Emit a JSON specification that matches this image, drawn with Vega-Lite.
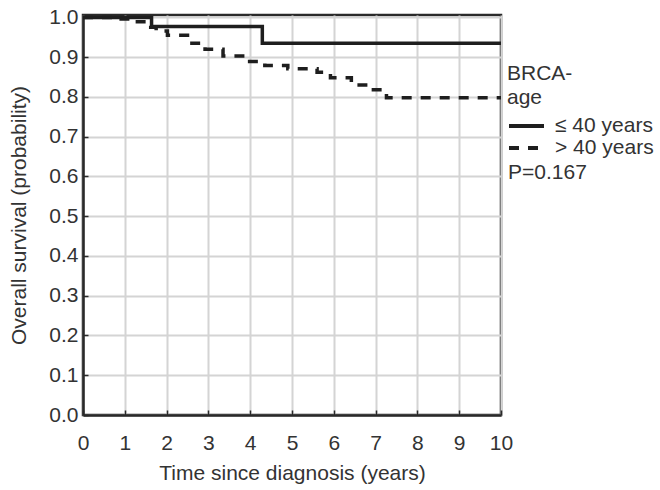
{
  "$schema": "https://vega.github.io/schema/vega-lite/v6.json",
  "width": 418,
  "height": 400,
  "autosize": "none",
  "padding": {"left": 83, "top": 15, "right": 159, "bottom": 75},
  "background": "white",
  "config": {
    "font": "Liberation Sans",
    "view": {"stroke": "#2a2a2a", "strokeWidth": 2.5},
    "axis": {
      "gridColor": "#d4d4d4",
      "gridWidth": 2,
      "gridOpacity": 1,
      "domainColor": "#2a2a2a",
      "domainWidth": 2.5,
      "tickColor": "#2a2a2a",
      "tickWidth": 1.5,
      "tickSize": -5,
      "labelFontSize": 21,
      "labelColor": "#333",
      "labelOverlap": false,
      "titleFontSize": 21,
      "titleFontWeight": "normal",
      "titleColor": "#333"
    }
  },
  "datasets": {
    "surv": [
      {"t": 0, "s": 1.0, "g": "≤ 40 years"},
      {"t": 1.64, "s": 0.977, "g": "≤ 40 years"},
      {"t": 4.29, "s": 0.935, "g": "≤ 40 years"},
      {"t": 10, "s": 0.935, "g": "≤ 40 years"},
      {"t": 0, "s": 1.0, "g": "> 40 years"},
      {"t": 0.8, "s": 0.996, "g": "> 40 years"},
      {"t": 1.2, "s": 0.989, "g": "> 40 years"},
      {"t": 1.62, "s": 0.975, "g": "> 40 years"},
      {"t": 1.75, "s": 0.966, "g": "> 40 years"},
      {"t": 2.02, "s": 0.955, "g": "> 40 years"},
      {"t": 2.5, "s": 0.935, "g": "> 40 years"},
      {"t": 2.92, "s": 0.92, "g": "> 40 years"},
      {"t": 3.35, "s": 0.903, "g": "> 40 years"},
      {"t": 3.9, "s": 0.889, "g": "> 40 years"},
      {"t": 4.35, "s": 0.879, "g": "> 40 years"},
      {"t": 4.9, "s": 0.871, "g": "> 40 years"},
      {"t": 5.6, "s": 0.862, "g": "> 40 years"},
      {"t": 5.92, "s": 0.848, "g": "> 40 years"},
      {"t": 6.42, "s": 0.83, "g": "> 40 years"},
      {"t": 6.82, "s": 0.818, "g": "> 40 years"},
      {"t": 7.26, "s": 0.798, "g": "> 40 years"},
      {"t": 10, "s": 0.798, "g": "> 40 years"}
    ],
    "pval": [{"t": 10, "s": 0.609, "label": "P=0.167"}]
  },
  "layer": [
    {
      "data": {"name": "surv"},
      "mark": {"type": "line", "interpolate": "step-after", "color": "#1e1e1e", "strokeWidth": 3.5},
      "encoding": {
        "x": {
          "field": "t", "type": "quantitative",
          "scale": {"domain": [0, 10], "nice": false},
          "axis": {"values": [0,1,2,3,4,5,6,7,8,9,10], "tickCount": 11, "title": "Time since diagnosis (years)", "labelPadding": 22, "titlePadding": 9, "labelFlush": false}
        },
        "y": {
          "field": "s", "type": "quantitative",
          "scale": {"domain": [0, 1.006], "nice": false},
          "axis": {"values": [0,0.1,0.2,0.3,0.4,0.5,0.6,0.7,0.8,0.9,1.0], "tickCount": 11, "format": ".1f", "title": "Overall survival (probability)", "labelPadding": 10, "titlePadding": 19, "labelFlush": false}
        },
        "strokeDash": {
          "field": "g", "type": "nominal",
          "scale": {"domain": ["≤ 40 years", "> 40 years"], "range": [[1, 0], [10, 9]]},
          "legend": {
            "title": ["BRCA-", "age"],
            "orient": "none",
            "legendX": 424,
            "legendY": 48,
            "titleFontSize": 21,
            "titleFontWeight": "normal",
            "titleColor": "#333",
            "titleLineHeight": 24,
            "titlePadding": 7,
            "labelFontSize": 21,
            "labelColor": "#333",
            "symbolType": "stroke",
            "symbolSize": 1225,
            "symbolStrokeWidth": 4,
            "symbolStrokeColor": "#1e1e1e",
            "clipHeight": 22,
            "rowPadding": 0,
            "labelOffset": 9,
            "symbolOffset": 0
          }
        }
      }
    },
    {
      "data": {"name": "pval"},
      "mark": {"type": "text", "align": "left", "baseline": "middle", "dx": 7, "fontSize": 21, "color": "#333"},
      "encoding": {
        "x": {"field": "t", "type": "quantitative"},
        "y": {"field": "s", "type": "quantitative"},
        "text": {"field": "label"}
      }
    }
  ]
}
